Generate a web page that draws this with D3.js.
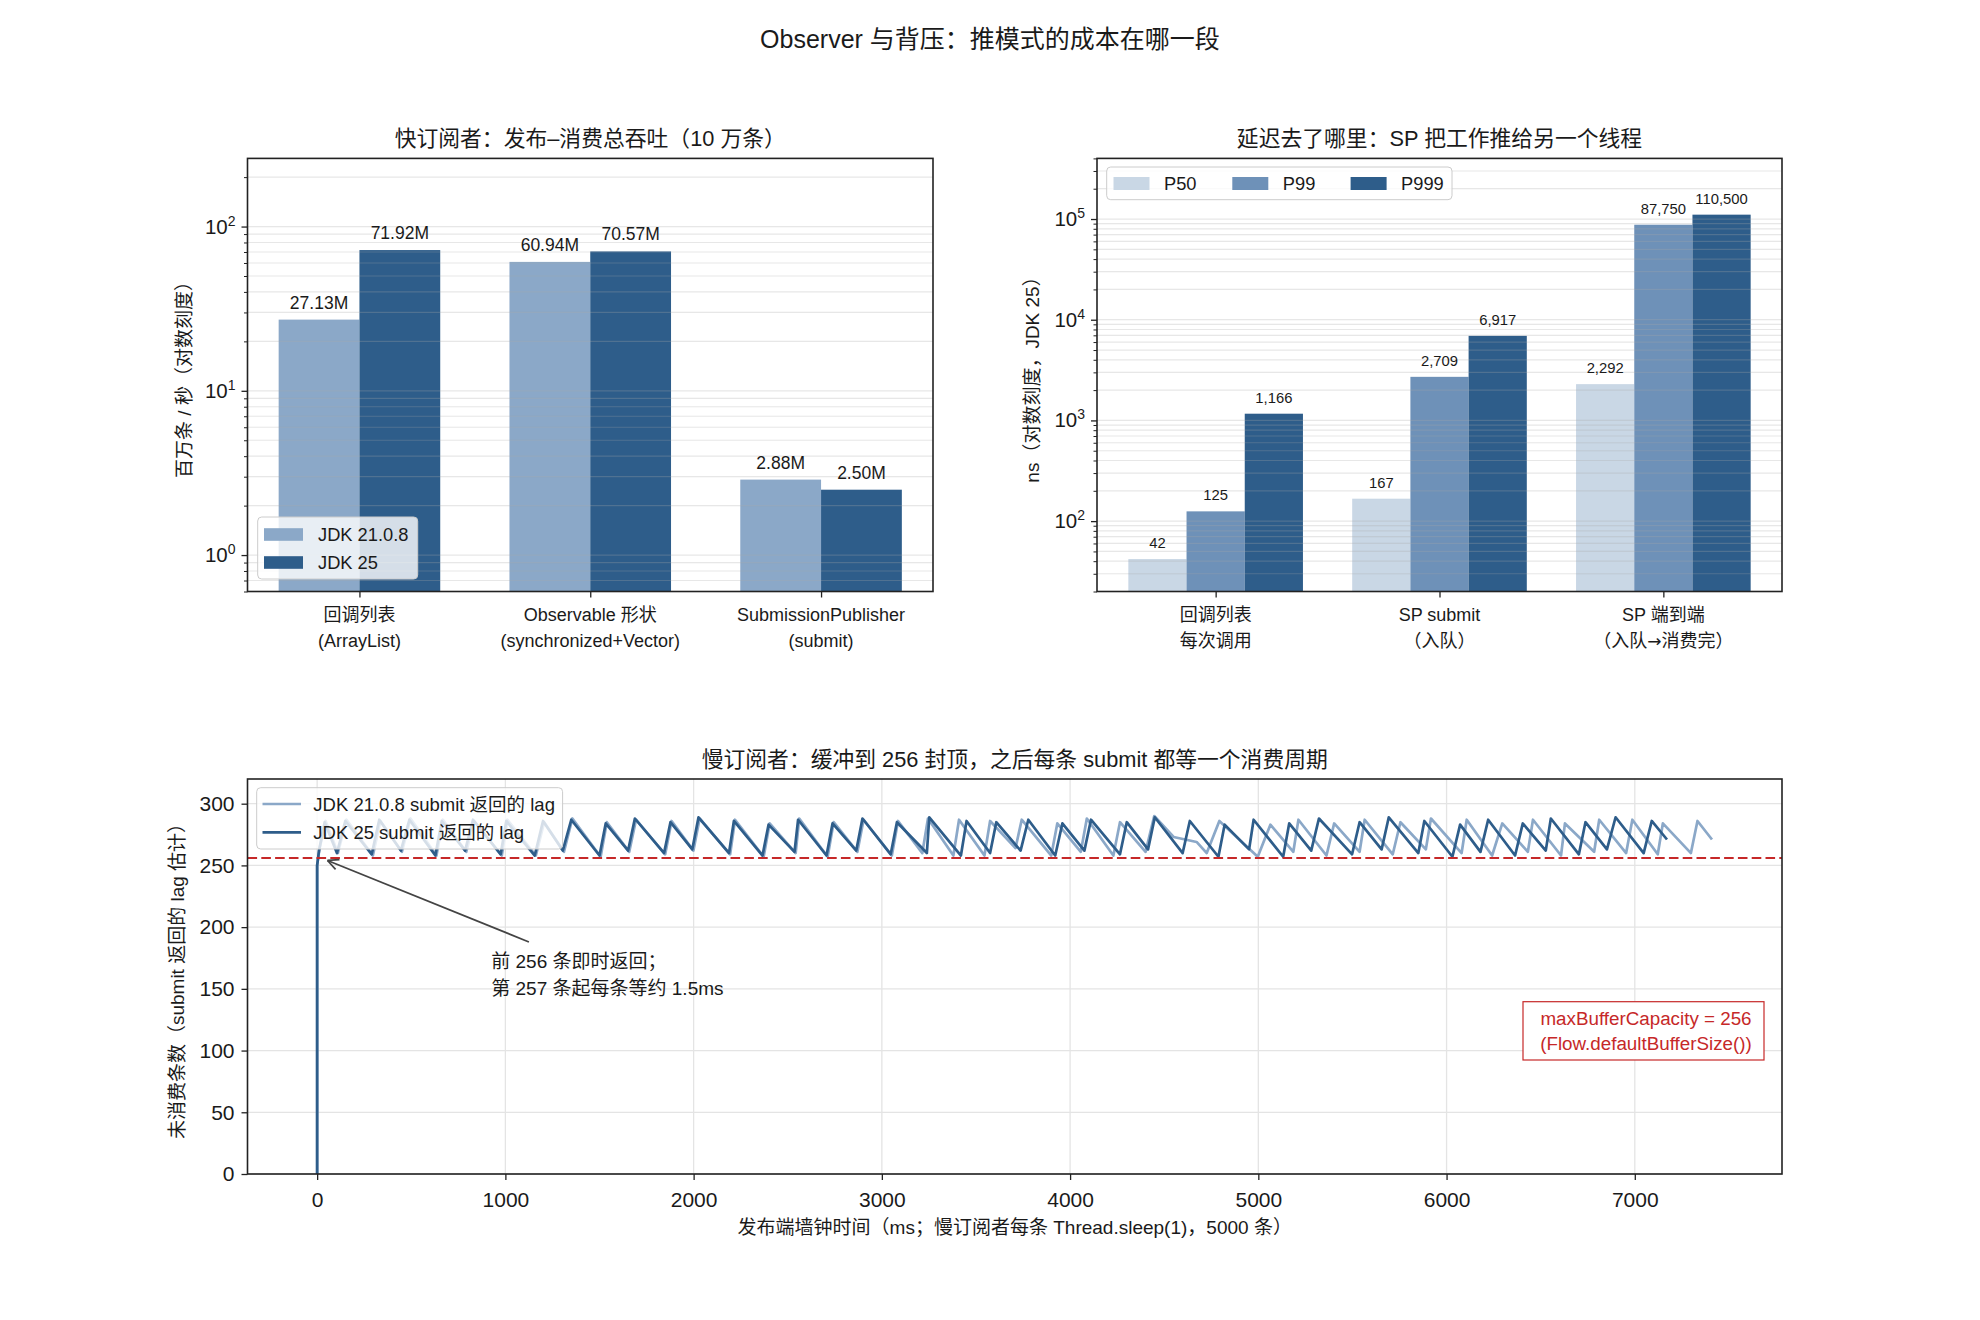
<!DOCTYPE html>
<html><head><meta charset="utf-8">
<script src="https://cdn.jsdelivr.net/npm/d3@7"></script>
<style>
body{margin:0;background:#fff}
svg{display:block}
text{font-family:"Liberation Sans","Noto Sans CJK SC",sans-serif;fill:#1a1a1a}
</style>
</head><body>
<svg id="c" width="1980" height="1320"></svg>
<script>
// ---------------- DATA ----------------
const supTitle = "Observer 与背压：推模式的成本在哪一段";

// Panel 1: throughput
const tpTitle = "快订阅者：发布–消费总吞吐（10 万条）";
const tpYLabel = "百万条 / 秒（对数刻度）";
const tpCats = [["回调列表", "(ArrayList)"], ["Observable 形状", "(synchronized+Vector)"], ["SubmissionPublisher", "(submit)"]];
const tpSeriesNames = ["JDK 21.0.8", "JDK 25"];
const tpJdk21 = [27.13, 60.94, 2.88];
const tpJdk25 = [71.92, 70.57, 2.50];
const tpYTicks = [1, 10, 100];

// Panel 2: latency
const ltTitle = "延迟去了哪里：SP 把工作推给另一个线程";
const ltYLabel = "ns（对数刻度，JDK 25）";
const ltCats = [["回调列表", "每次调用"], ["SP submit", "（入队）"], ["SP 端到端", "（入队→消费完）"]];
const ltSeriesNames = ["P50", "P99", "P999"];
const ltP50 = [42, 167, 2292];
const ltP99 = [125, 2709, 87750];
const ltP999 = [1166, 6917, 110500];
const ltYTicks = [100, 1000, 10000, 100000];

// Panel 3: lag over time  [ms, lag]
const lagTitle = "慢订阅者：缓冲到 256 封顶，之后每条 submit 都等一个消费周期";
const lagXLabel = "发布端墙钟时间（ms；慢订阅者每条 Thread.sleep(1)，5000 条）";
const lagYLabel = "未消费条数（submit 返回的 lag 估计）";
const lagSeriesNames = ["JDK 21.0.8 submit 返回的 lag", "JDK 25 submit 返回的 lag"];
const lagXTicks = [0, 1000, 2000, 3000, 4000, 5000, 6000, 7000];
const lagYTicks = [0, 50, 100, 150, 200, 250, 300];
const bufferCap = 256;
const noteText = ["前 256 条即时返回；", "第 257 条起每条等约 1.5ms"];
const capText = ["maxBufferCapacity = 256", "(Flow.defaultBufferSize())"];
const lagJdk21 = [[0,0],[0,250],[12,263],[45,286],[110,260],[156,287],[296,258],[336,286],[450,261],[496,288],[634,258],[668,287],[792,261],[834,286],[981,258],[1011,287],[1162,258],[1206,285],[1311,261],[1356,288],[1506,257],[1539,285],[1658,261],[1694,287],[1849,259],[1883,286],[1999,262],[2032,288],[2194,259],[2220,287],[2372,257],[2404,284],[2542,260],[2561,288],[2712,257],[2744,285],[2870,261],[2903,287],[3053,258],[3086,286],[3215,260],[3245,288],[3380,258],[3410,287],[3545,258],[3575,286],[3710,264],[3743,287],[3900,258],[3932,284],[4057,261],[4089,288],[4230,258],[4265,285],[4401,261],[4447,290],[4550,273],[4672,269],[4726,260],[4793,286],[4997,257],[5064,283],[5186,261],[5213,287],[5362,258],[5403,284],[5538,261],[5565,287],[5714,259],[5755,285],[5890,263],[5917,288],[6080,260],[6107,287],[6242,258],[6296,284],[6432,261],[6459,287],[6608,258],[6629,284],[6784,261],[6811,287],[6954,260],[6987,287],[7122,259],[7149,284],[7298,260],[7333,286],[7410,271]];
const lagJdk25 = [[0,0],[0,250],[10,262],[40,285],[105,260],[150,286],[290,259],[330,287],[445,262],[490,287],[628,258],[662,286],[786,262],[828,287],[975,259],[1005,286],[1156,258],[1200,286],[1305,262],[1350,287],[1500,258],[1533,284],[1652,262],[1688,288],[1843,260],[1877,285],[1993,263],[2026,289],[2188,260],[2214,286],[2366,258],[2398,283],[2536,261],[2555,287],[2706,258],[2738,284],[2864,262],[2897,288],[3047,259],[3080,285],[3239,260],[3252,289],[3420,258],[3450,286],[3575,260],[3608,285],[3737,262],[3778,287],[3921,258],[3959,284],[4076,262],[4111,287],[4265,259],[4301,285],[4414,263],[4450,289],[4598,260],[4636,286],[4788,257],[4821,283],[4951,263],[4975,287],[5132,257],[5164,284],[5281,262],[5322,288],[5498,259],[5538,285],[5655,263],[5693,289],[5850,260],[5882,286],[6031,257],[6072,283],[6180,261],[6221,287],[6364,258],[6405,284],[6527,262],[6554,288],[6703,259],[6738,285],[6852,263],[6898,289],[7047,260],[7090,286],[7171,271]];

// ---------------- STYLE ----------------
const C_LIGHT = "#8ba8c8", C_DARK = "#2e5d8a";
const C_P50 = "#c9d7e5", C_P99 = "#6e91b8", C_P999 = "#2e5d8a";
const C_RED = "#c62828";
const INK = "#222";

const svg = d3.select("#c");
const P1 = {l:247.5, r:933, t:158.4, b:591.5};
const P2 = {l:1097, r:1782, t:158.4, b:591.5};
const P3 = {l:247.5, r:1782, t:779, b:1174};

const defs = svg.append("defs");
[["cp1",P1],["cp2",P2],["cp3",P3]].forEach(([id,p]) => {
  defs.append("clipPath").attr("id", id).append("rect")
    .attr("x", p.l).attr("y", p.t).attr("width", p.r - p.l).attr("height", p.b - p.t);
});

function styleAxis(g, fs) {
  g.select(".domain").remove();
  g.selectAll(".tick line").attr("stroke", INK).attr("stroke-width", 1.3);
  g.selectAll(".tick text").attr("font-size", fs).style("fill", "#1a1a1a");
}
function frame(p) {
  svg.append("rect").attr("x", p.l).attr("y", p.t).attr("width", p.r - p.l).attr("height", p.b - p.t)
    .attr("fill", "none").attr("stroke", INK).attr("stroke-width", 1.6);
}
function minorLogVals(dom) {
  const out = [];
  for (let k = Math.floor(Math.log10(dom[0])); k <= Math.ceil(Math.log10(dom[1])); k++)
    for (let m = 1; m <= 9; m++) { const v = m * Math.pow(10, k); if (v >= dom[0] && v <= dom[1]) out.push(v); }
  return out;
}
function supLabels(g) {
  g.selectAll(".tick text").each(function(d) {
    const t = d3.select(this); t.text(null);
    t.append("tspan").text("10");
    t.append("tspan").attr("dy", -8).attr("font-size", 14).text(Math.round(Math.log10(d)));
  });
}
function ylab(x, y, txt) {
  svg.append("text").attr("transform", `translate(${x},${y}) rotate(-90)`)
    .attr("text-anchor", "middle").attr("font-size", 19).text(txt);
}
function title(x, y, txt, fs) {
  svg.append("text").attr("x", x).attr("y", y).attr("text-anchor", "middle").attr("font-size", fs).text(txt);
}
function catText(x, y, txt) {
  const t = svg.append("text").attr("x", x).attr("y", y).attr("text-anchor", "middle").attr("font-size", 18);
  txt.split("→").forEach((part, i) => {
    if (i > 0) t.append("tspan").style("font-family", "'DejaVu Sans',sans-serif").attr("font-size", 17).text("→");
    t.append("tspan").text(part);
  });
}

// suptitle
title(990, 48, supTitle, 25);

// ---------------- PANEL 1 ----------------
{
  const x = d3.scaleLinear().domain([-0.485, 2.485]).range([P1.l, P1.r]);
  const dom = [0.6, 260];
  const y = d3.scaleLog().domain(dom).range([P1.b, P1.t]);
  const bw = 0.35;
  const series = [tpJdk21, tpJdk25];
  const cols = [C_LIGHT, C_DARK];
  const gb = svg.append("g").attr("clip-path", "url(#cp1)");
  series.forEach((vals, s) => {
    gb.selectAll(null).data(vals).enter().append("rect")
      .attr("x", (d, i) => x(i + (s - 0.5) * bw - bw / 2))
      .attr("width", x(bw) - x(0))
      .attr("y", d => y(d)).attr("height", d => P1.b - y(d))
      .attr("fill", cols[s]);
  });
  gb.selectAll(null).data(minorLogVals(dom)).enter().append("line")
    .attr("x1", P1.l).attr("x2", P1.r).attr("y1", d => y(d)).attr("y2", d => y(d))
    .attr("stroke", "#aaaaaa").attr("stroke-opacity", 0.28).attr("stroke-width", 1.2);
  series.forEach((vals, s) => {
    svg.selectAll(null).data(vals).enter().append("text")
      .attr("x", (d, i) => x(i + (s - 0.5) * bw)).attr("y", d => y(d) - 11)
      .attr("text-anchor", "middle").attr("font-size", 17.5)
      .text(d => d.toFixed(2) + "M");
  });
  const ga = svg.append("g").attr("transform", `translate(${P1.l},0)`)
    .call(d3.axisLeft(y).tickValues(tpYTicks).tickSize(6).tickPadding(6));
  styleAxis(ga, 20.5); supLabels(ga);
  const gm = svg.append("g").attr("transform", `translate(${P1.l},0)`)
    .call(d3.axisLeft(y).tickValues(minorLogVals(dom).filter(v => !tpYTicks.includes(v))).tickSize(3.5).tickFormat(""));
  styleAxis(gm, 10); gm.selectAll(".tick line").attr("stroke-width", 1);
  const gx = svg.append("g").attr("transform", `translate(0,${P1.b})`)
    .call(d3.axisBottom(x).tickValues([0, 1, 2]).tickSize(6).tickFormat(""));
  styleAxis(gx, 18);
  tpCats.forEach((c, i) => {
    catText(x(i), 621, c[0]);
    catText(x(i), 646.5, c[1]);
  });
  const lg = svg.append("g");
  lg.append("rect").attr("x", 257.7).attr("y", 517).attr("width", 160).attr("height", 62)
    .attr("rx", 4).attr("fill", "#fff").attr("fill-opacity", 0.8).attr("stroke", "#cccccc");
  tpSeriesNames.forEach((n, s) => {
    const cy = 534.5 + s * 28;
    lg.append("rect").attr("x", 264).attr("y", cy - 6.3).attr("width", 39).attr("height", 12.6).attr("fill", cols[s]);
    lg.append("text").attr("x", 318).attr("y", cy + 6.5).attr("font-size", 18.3).text(n);
  });
  frame(P1);
  title((P1.l + P1.r) / 2, 145.5, tpTitle, 21.8);
  ylab(190.5, 375, tpYLabel);
}

// ---------------- PANEL 2 ----------------
{
  const x = d3.scaleLinear().domain([-0.53, 2.53]).range([P2.l, P2.r]);
  const dom = [20, 400000];
  const y = d3.scaleLog().domain(dom).range([P2.b, P2.t]);
  const bw = 0.26;
  const series = [ltP50, ltP99, ltP999];
  const cols = [C_P50, C_P99, C_P999];
  const gb = svg.append("g").attr("clip-path", "url(#cp2)");
  series.forEach((vals, s) => {
    gb.selectAll(null).data(vals).enter().append("rect")
      .attr("x", (d, i) => x(i + (s - 1) * bw - bw / 2))
      .attr("width", x(bw) - x(0))
      .attr("y", d => y(d)).attr("height", d => P2.b - y(d))
      .attr("fill", cols[s]);
  });
  gb.selectAll(null).data(minorLogVals(dom)).enter().append("line")
    .attr("x1", P2.l).attr("x2", P2.r).attr("y1", d => y(d)).attr("y2", d => y(d))
    .attr("stroke", "#aaaaaa").attr("stroke-opacity", 0.28).attr("stroke-width", 1.2);
  const fmt = d3.format(",");
  series.forEach((vals, s) => {
    svg.selectAll(null).data(vals).enter().append("text")
      .attr("x", (d, i) => x(i + (s - 1) * bw)).attr("y", d => y(d) - 11)
      .attr("text-anchor", "middle").attr("font-size", 14.8)
      .text(d => fmt(d));
  });
  const ga = svg.append("g").attr("transform", `translate(${P2.l},0)`)
    .call(d3.axisLeft(y).tickValues(ltYTicks).tickSize(6).tickPadding(6));
  styleAxis(ga, 20.5); supLabels(ga);
  const gm = svg.append("g").attr("transform", `translate(${P2.l},0)`)
    .call(d3.axisLeft(y).tickValues(minorLogVals(dom).filter(v => !ltYTicks.includes(v))).tickSize(3.5).tickFormat(""));
  styleAxis(gm, 10); gm.selectAll(".tick line").attr("stroke-width", 1);
  const gx = svg.append("g").attr("transform", `translate(0,${P2.b})`)
    .call(d3.axisBottom(x).tickValues([0, 1, 2]).tickSize(6).tickFormat(""));
  styleAxis(gx, 18);
  ltCats.forEach((c, i) => {
    catText(x(i), 621, c[0]);
    catText(x(i), 646.5, c[1]);
  });
  const lg = svg.append("g");
  lg.append("rect").attr("x", 1106.7).attr("y", 167).attr("width", 345.3).attr("height", 32.7)
    .attr("rx", 4).attr("fill", "#fff").attr("fill-opacity", 0.8).attr("stroke", "#cccccc");
  const lx = [1113.5, 1232.3, 1350.6];
  ltSeriesNames.forEach((n, s) => {
    lg.append("rect").attr("x", lx[s]).attr("y", 177).attr("width", 36).attr("height", 13).attr("fill", cols[s]);
    lg.append("text").attr("x", lx[s] + 50.5).attr("y", 190).attr("font-size", 18.3).text(n);
  });
  frame(P2);
  title((P2.l + P2.r) / 2, 145.5, ltTitle, 21.8);
  ylab(1038.5, 375, ltYLabel);
}

// ---------------- PANEL 3 ----------------
{
  const x = d3.scaleLinear().domain([-370, 7782]).range([P3.l, P3.r]);
  const y = d3.scaleLinear().domain([0, 320]).range([P3.b, P3.t]);
  const gg = svg.append("g");
  gg.selectAll(null).data(lagXTicks).enter().append("line")
    .attr("x1", d => x(d)).attr("x2", d => x(d)).attr("y1", P3.t).attr("y2", P3.b)
    .attr("stroke", "#e4e4e4").attr("stroke-width", 1.3);
  gg.selectAll(null).data(lagYTicks).enter().append("line")
    .attr("x1", P3.l).attr("x2", P3.r).attr("y1", d => y(d)).attr("y2", d => y(d))
    .attr("stroke", "#e4e4e4").attr("stroke-width", 1.3);
  const gl = svg.append("g").attr("clip-path", "url(#cp3)");
  const line = d3.line().x(d => x(d[0])).y(d => y(d[1]));
  gl.append("path").datum(lagJdk21).attr("d", line).attr("fill", "none")
    .attr("stroke", C_LIGHT).attr("stroke-width", 2.7).attr("stroke-linejoin", "round");
  gl.append("path").datum(lagJdk25).attr("d", line).attr("fill", "none")
    .attr("stroke", C_DARK).attr("stroke-width", 2.7).attr("stroke-linejoin", "round");
  gl.append("line").attr("x1", P3.l).attr("x2", P3.r).attr("y1", y(bufferCap)).attr("y2", y(bufferCap))
    .attr("stroke", C_RED).attr("stroke-width", 2).attr("stroke-dasharray", "9.6,4.2");

  const hx = x(55), hy = y(254), tx = x(1125), ty = y(188);
  svg.append("line").attr("x1", tx).attr("y1", ty).attr("x2", hx).attr("y2", hy)
    .attr("stroke", "#444").attr("stroke-width", 1.7);
  const ang = Math.atan2(ty - hy, tx - hx);
  [-0.45, 0.45].forEach(da => {
    svg.append("line").attr("x1", hx).attr("y1", hy)
      .attr("x2", hx + 12 * Math.cos(ang + da)).attr("y2", hy + 12 * Math.sin(ang + da))
      .attr("stroke", "#444").attr("stroke-width", 1.7);
  });
  noteText.forEach((t, i) => {
    svg.append("text").attr("x", x(925)).attr("y", y(167) + i * 27).attr("font-size", 19).text(t);
  });

  svg.append("rect").attr("x", 1523).attr("y", 1001.7).attr("width", 241).attr("height", 58.3)
    .attr("fill", "#fff").attr("stroke", C_RED).attr("stroke-width", 1.2);
  capText.forEach((t, i) => {
    svg.append("text").attr("x", 1646).attr("y", 1024.5 + i * 25).attr("text-anchor", "middle")
      .attr("font-size", 18.8).style("fill", C_RED).text(t);
  });

  const gx = svg.append("g").attr("transform", `translate(0,${P3.b})`)
    .call(d3.axisBottom(x).tickValues(lagXTicks).tickSize(6).tickPadding(12).tickFormat(d3.format("d")));
  styleAxis(gx, 21);
  const gy = svg.append("g").attr("transform", `translate(${P3.l},0)`)
    .call(d3.axisLeft(y).tickValues(lagYTicks).tickSize(6).tickPadding(7).tickFormat(d3.format("d")));
  styleAxis(gy, 21);

  const lg = svg.append("g");
  lg.append("rect").attr("x", 256.7).attr("y", 787.7).attr("width", 305.9).attr("height", 61.3)
    .attr("rx", 4).attr("fill", "#fff").attr("fill-opacity", 0.8).attr("stroke", "#cccccc");
  [C_LIGHT, C_DARK].forEach((c, s) => {
    const cy = 804 + s * 28.3;
    lg.append("line").attr("x1", 262.5).attr("x2", 301).attr("y1", cy).attr("y2", cy)
      .attr("stroke", c).attr("stroke-width", 2.7);
    lg.append("text").attr("x", 313.3).attr("y", cy + 6.5).attr("font-size", 18.5).text(lagSeriesNames[s]);
  });
  frame(P3);
  title((P3.l + P3.r) / 2, 766.5, lagTitle, 21.8);
  svg.append("text").attr("x", (P3.l + P3.r) / 2).attr("y", 1233.5).attr("text-anchor", "middle")
    .attr("font-size", 19).text(lagXLabel);
  ylab(183.5, 976.5, lagYLabel);
}
</script>
</body></html>
